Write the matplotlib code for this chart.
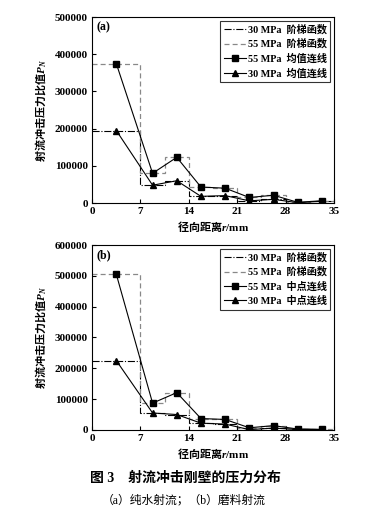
import numpy as np
import matplotlib
matplotlib.use('Agg')
import matplotlib.pyplot as plt
from matplotlib.lines import Line2D

plt.rcParams['font.family'] = ['Liberation Serif', 'Noto Sans CJK SC']
plt.rcParams['font.weight'] = 'bold'
plt.rcParams['mathtext.fontset'] = 'custom'
plt.rcParams['mathtext.rm'] = 'Noto Sans CJK SC'
plt.rcParams['mathtext.it'] = 'Liberation Serif:italic:bold'
plt.rcParams['mathtext.bf'] = 'Liberation Serif:bold'

# radial positions (bin centres) and bin edges, mm
r_mid = [3.5, 8.75, 12.25, 15.75, 19.25, 22.75, 26.25, 29.75, 33.25]
r_edges = [0, 7, 10.5, 14, 17.5, 21, 24.5, 28, 31.5, 35]

# (a) pure water jet
a_55 = [375000, 80000, 123000, 43000, 40000, 15000, 21000, 2000, 6000]
a_30 = [195000, 48000, 60000, 18000, 20000, 6000, 10000, 1000, 5000]
# (b) abrasive jet
b_55 = [505000, 87000, 121000, 37000, 34000, 7000, 14000, 3000, 2000]
b_30 = [225000, 55000, 50000, 22000, 19000, 1000, 6000, 2000, 1000]

a_labels = ['30 MPa  阶梯函数', '55 MPa  阶梯函数', '55 MPa  均值连线', '30 MPa  均值连线']
b_labels = ['30 MPa  阶梯函数', '55 MPa  阶梯函数', '55 MPa  中点连线', '30 MPa  中点连线']

fig = plt.figure(figsize=(3.67, 5.18), dpi=100)


def panel(rect, v55, v30, ymax, tag, labels):
    ax = fig.add_axes(rect)
    ax.stairs(v30, r_edges, baseline=None, color='black', lw=0.8, ls='-.')
    ax.stairs(v55, r_edges, baseline=None, color='#888888', lw=0.9, ls=(0, (4, 2.5)))
    ax.plot(r_mid, v55, color='black', lw=0.8, marker='s', ms=4, mfc='black', mec='black')
    ax.plot(r_mid, v30, color='black', lw=0.8, marker='^', ms=4, mfc='black', mec='black')
    ax.set_xlim(0, 35)
    ax.set_ylim(0, ymax)
    ax.set_xticks(range(0, 36, 7))
    ax.set_yticks(range(0, ymax + 1, 100000))
    ax.tick_params(direction='in', labelsize=8, length=3, width=0.8, pad=3)
    for lab in ax.get_xticklabels() + ax.get_yticklabels():
        lab.set_fontweight('bold')
    for s in ax.spines.values():
        s.set_linewidth(0.8)
    ax.text(0.02, 0.975, tag, transform=ax.transAxes, ha='left', va='top',
            fontsize=8.5, fontweight='bold')
    ax.set_ylabel(r'$\mathrm{射流冲击压力比值}P_N$', fontsize=8, labelpad=5)
    ax.set_xlabel(r'$\mathrm{径向距离}r\mathbf{/mm}$', fontsize=8, labelpad=3)
    handles = [
        Line2D([], [], color='black', lw=0.8, ls='-.'),
        Line2D([], [], color='#888888', lw=0.9, ls=(0, (4, 2.5))),
        Line2D([], [], color='black', lw=0.8, marker='s', ms=4),
        Line2D([], [], color='black', lw=0.8, marker='^', ms=4),
    ]
    leg = ax.legend(handles, labels, loc='upper right', fontsize=7.3, frameon=True,
                    fancybox=False, edgecolor='black', handlelength=2.2,
                    handletextpad=0.2, borderpad=0.35, labelspacing=0.42,
                    borderaxespad=0.35)
    leg.get_frame().set_linewidth(0.8)
    for t in leg.get_texts():
        t.set_fontweight('bold')
    return ax


panel([0.251, 0.608, 0.659, 0.359], a_55, a_30, 500000, '(a)', a_labels)
panel([0.251, 0.170, 0.659, 0.357], b_55, b_30, 600000, '(b)', b_labels)

fig.text(0.505, 0.077, '图 3    射流冲击刚壁的压力分布', ha='center', va='center',
         fontsize=10, fontweight='bold')
fig.text(0.50, 0.034, '（a）纯水射流；（b）磨料射流', ha='center', va='center',
         fontsize=8.5, fontweight='normal')

fig.savefig('out.png', dpi=100)
